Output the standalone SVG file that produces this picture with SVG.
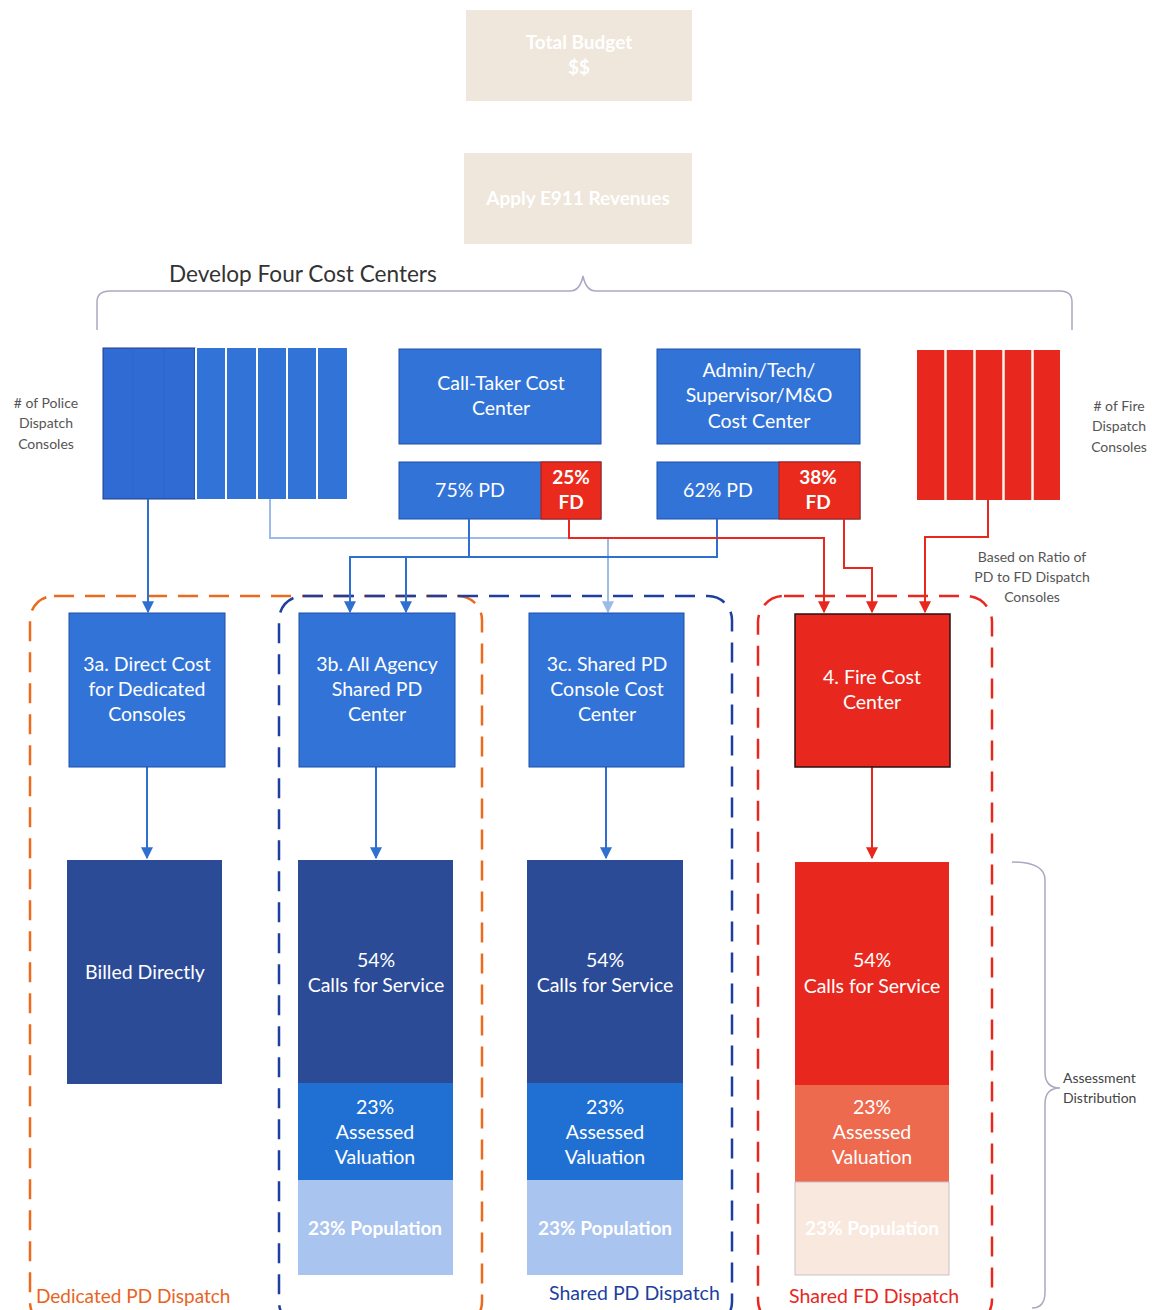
<svg xmlns="http://www.w3.org/2000/svg" width="1152" height="1310" viewBox="0 0 1152 1310">
<style>
  text { font-family: Lato, "Liberation Sans", Arial, sans-serif; }
  .w { fill: #ffffff; text-anchor: middle; font-size: 19.5px; }
  .wb { fill: #ffffff; text-anchor: middle; font-size: 19px; font-weight: bold; }
  .g { fill: #555555; text-anchor: middle; font-size: 14px; }
  .blue { fill: #3273d8; stroke: #1f4fa8; stroke-width: 1; }
  .red { fill: #ea2a1c; stroke: #b01a10; stroke-width: 1; }
  .navy { fill: #2c4b96; }
  .mid { fill: #1f70d2; }
  .light { fill: #a9c4ee; }
  .beige { fill: #efe6dc; }
  .cb { fill: none; stroke: #2f6fd0; stroke-width: 2; }
  .cl { fill: none; stroke: #9cbbe9; stroke-width: 2; }
  .cr { fill: none; stroke: #e8281e; stroke-width: 2; }
  .brace { fill: none; stroke: #a9a9c2; stroke-width: 1.5; }
  .dash { fill: none; stroke-width: 2.5; stroke-dasharray: 20 11; }
</style>
<defs>
  <marker id="ab" viewBox="0 0 10 10" refX="9" refY="5" markerWidth="6" markerHeight="6" orient="auto"><path d="M0,0 L10,5 L0,10 z" fill="#2f6fd0"/></marker>
  <marker id="al" viewBox="0 0 10 10" refX="9" refY="5" markerWidth="6" markerHeight="6" orient="auto"><path d="M0,0 L10,5 L0,10 z" fill="#9cbbe9"/></marker>
  <marker id="ar" viewBox="0 0 10 10" refX="9" refY="5" markerWidth="6" markerHeight="6" orient="auto"><path d="M0,0 L10,5 L0,10 z" fill="#e8281e"/></marker>
</defs>
<rect width="1152" height="1310" fill="#ffffff"/>

<!-- top faded boxes -->
<g id="total-budget">
  <rect class="beige" x="466" y="10" width="226" height="91"/>
  <text class="wb" x="579" y="49" font-size="18">Total Budget</text>
  <text class="wb" x="579" y="74" font-size="18">$$</text>
</g>
<g id="e911">
  <rect class="beige" x="464" y="153" width="228" height="91"/>
  <text class="wb" x="578" y="205" font-size="18">Apply E911 Revenues</text>
</g>

<!-- Develop four cost centers brace -->
<g id="develop">
  <text x="169" y="282" font-size="22.6" fill="#333333">Develop Four Cost Centers</text>
  <path class="brace" d="M97,330 V302 Q97,291 110,291 H570 Q580,291 583,276 Q586,291 596,291 H1060 Q1072,291 1072,302 V330"/>
</g>

<!-- police consoles -->
<g id="police-consoles">
  <rect x="103" y="348" width="244" height="151" fill="#3273d8"/>
  <rect x="103" y="348" width="92" height="151" fill="#2f6bd2" stroke="#1f3f8a" stroke-width="1"/>
  <g stroke="#2a5fc0" stroke-width="1" opacity="0.35">
    <line x1="133" y1="349" x2="133" y2="498"/>
    <line x1="164" y1="349" x2="164" y2="498"/>
  </g>
  <g stroke="#ffffff" stroke-width="2">
    <line x1="196" y1="348" x2="196" y2="499"/>
    <line x1="226" y1="348" x2="226" y2="499"/>
    <line x1="257" y1="348" x2="257" y2="499"/>
    <line x1="287" y1="348" x2="287" y2="499"/>
    <line x1="317" y1="348" x2="317" y2="499"/>
  </g>
  <text class="g" x="46" y="408">#<tspan> of Police</tspan></text>
  <text class="g" x="46" y="428">Dispatch</text>
  <text class="g" x="46" y="449">Consoles</text>
</g>

<!-- call taker -->
<g id="call-taker">
  <rect class="blue" x="399" y="349" width="202" height="95"/>
  <text class="w" x="501" y="390">Call-Taker Cost</text>
  <text class="w" x="501" y="415">Center</text>
</g>
<g id="call-taker-split">
  <rect class="blue" x="399" y="462" width="202" height="57"/>
  <rect class="red" x="541" y="462" width="60" height="57" fill="#ee4a2c"/>
  <text class="w" x="470" y="497">75% PD</text>
  <text class="wb" x="571" y="484">25%</text>
  <text class="wb" x="571" y="509">FD</text>
</g>

<!-- admin -->
<g id="admin">
  <rect class="blue" x="657" y="349" width="203" height="95"/>
  <text class="w" x="759" y="377">Admin/Tech/</text>
  <text class="w" x="759" y="402">Supervisor/M&amp;O</text>
  <text class="w" x="759" y="428">Cost Center</text>
</g>
<g id="admin-split">
  <rect class="blue" x="657" y="462" width="203" height="57"/>
  <rect class="red" x="779" y="462" width="81" height="57" fill="#ee4a2c"/>
  <text class="w" x="718" y="497">62% PD</text>
  <text class="wb" x="818" y="484">38%</text>
  <text class="wb" x="818" y="509">FD</text>
</g>

<!-- fire consoles -->
<g id="fire-consoles">
  <rect x="917" y="350" width="143" height="150" fill="#e8281e"/>
  <g stroke="#fff4ea" stroke-width="2.5">
    <line x1="945.5" y1="350" x2="945.5" y2="500"/>
    <line x1="974.5" y1="350" x2="974.5" y2="500"/>
    <line x1="1003.5" y1="350" x2="1003.5" y2="500"/>
    <line x1="1032.5" y1="350" x2="1032.5" y2="500"/>
  </g>
  <text class="g" x="1119" y="411">#<tspan> of Fire</tspan></text>
  <text class="g" x="1119" y="431">Dispatch</text>
  <text class="g" x="1119" y="452">Consoles</text>
</g>

<text class="g" x="1032" y="562" font-size="13.5" fill="#777777">Based on Ratio of</text>
<text class="g" x="1032" y="582" font-size="13.5" fill="#777777">PD to FD Dispatch</text>
<text class="g" x="1032" y="602" font-size="13.5" fill="#777777">Consoles</text>

<!-- dashed containers -->
<g id="containers">
  <rect class="dash" x="30" y="596" width="452" height="730" rx="24" stroke="#ec6a1e"/>
  <rect class="dash" x="279" y="596" width="453" height="730" rx="24" stroke="#1e3f9e"/>
  <rect class="dash" x="758" y="596" width="234" height="730" rx="26" stroke="#e8281e"/>
  <rect x="34" y="1283" width="200" height="27" fill="#ffffff"/>
  <rect x="545" y="1281" width="176" height="29" fill="#ffffff"/>
  <rect x="785" y="1283" width="176" height="27" fill="#ffffff"/>
  <text x="36" y="1303" font-size="19" fill="#e8641e">Dedicated PD Dispatch</text>
  <text x="549" y="1300" font-size="19.5" fill="#1e3f9e">Shared PD Dispatch</text>
  <text x="789" y="1303" font-size="19.5" fill="#e8281e">Shared FD Dispatch</text>
</g>

<!-- connectors -->
<g id="connectors">
  <path class="cb" d="M148,499 V612" marker-end="url(#ab)"/>
  <path class="cl" d="M270,499 V538 H608 V612" marker-end="url(#al)"/>
  <path class="cb" d="M469,519 V557"/>
  <path class="cb" d="M717,519 V557 H350 V612" marker-end="url(#ab)"/>
  <path class="cb" d="M406,557 V612" marker-end="url(#ab)"/>
  <path class="cr" d="M569,519 V538 H824 V612" marker-end="url(#ar)"/>
  <path class="cr" d="M844,519 V568 H872 V612" marker-end="url(#ar)"/>
  <path class="cr" d="M988,500 V537 H925 V612" marker-end="url(#ar)"/>
  <path class="cb" d="M147,767 V858" marker-end="url(#ab)"/>
  <path class="cb" d="M376,767 V858" marker-end="url(#ab)"/>
  <path class="cb" d="M606,767 V858" marker-end="url(#ab)"/>
  <path class="cr" d="M872,767 V858" marker-end="url(#ar)"/>
</g>

<!-- cost center boxes -->
<g id="n3a">
  <rect class="blue" x="69" y="613" width="156" height="154"/>
  <text class="w" x="147" y="671">3a. Direct Cost</text>
  <text class="w" x="147" y="696">for Dedicated</text>
  <text class="w" x="147" y="721">Consoles</text>
</g>
<g id="n3b">
  <rect class="blue" x="299" y="613" width="156" height="154"/>
  <text class="w" x="377" y="671">3b. All Agency</text>
  <text class="w" x="377" y="696">Shared PD</text>
  <text class="w" x="377" y="721">Center</text>
</g>
<g id="n3c">
  <rect class="blue" x="529" y="613" width="155" height="154"/>
  <text class="w" x="607" y="671">3c. Shared PD</text>
  <text class="w" x="607" y="696">Console Cost</text>
  <text class="w" x="607" y="721">Center</text>
</g>
<g id="n4">
  <rect x="795" y="614" width="155" height="153" fill="#e8281e" stroke="#2a1010" stroke-width="1.5"/>
  <text class="w" x="872" y="684">4. Fire Cost</text>
  <text class="w" x="872" y="709">Center</text>
</g>

<!-- assessment boxes -->
<g id="billed">
  <rect class="navy" x="67" y="860" width="155" height="224"/>
  <text class="w" x="145" y="979">Billed Directly</text>
</g>
<g id="stack-3b">
  <rect class="navy" x="298" y="860" width="155" height="223"/>
  <rect class="mid" x="298" y="1083" width="155" height="97"/>
  <rect class="light" x="298" y="1180" width="155" height="95"/>
  <text class="w" x="376" y="967">54%</text>
  <text class="w" x="376" y="992">Calls for Service</text>
  <text class="w" x="375" y="1114">23%</text>
  <text class="w" x="375" y="1139">Assessed</text>
  <text class="w" x="375" y="1164">Valuation</text>
  <text class="wb" x="375" y="1235" fill="#e8f0fc">23% Population</text>
</g>
<g id="stack-3c">
  <rect class="navy" x="527" y="860" width="156" height="223"/>
  <rect class="mid" x="527" y="1083" width="156" height="97"/>
  <rect class="light" x="527" y="1180" width="156" height="95"/>
  <text class="w" x="605" y="967">54%</text>
  <text class="w" x="605" y="992">Calls for Service</text>
  <text class="w" x="605" y="1114">23%</text>
  <text class="w" x="605" y="1139">Assessed</text>
  <text class="w" x="605" y="1164">Valuation</text>
  <text class="wb" x="605" y="1235" fill="#e8f0fc">23% Population</text>
</g>
<g id="stack-4">
  <rect x="795" y="862" width="154" height="223" fill="#e8281e"/>
  <rect x="795" y="1085" width="154" height="97" fill="#ee6a4e"/>
  <rect x="795" y="1182" width="154" height="93" fill="#f8e8de" stroke="#c8c0c8" stroke-width="1"/>
  <text class="w" x="872" y="967">54%</text>
  <text class="w" x="872" y="993">Calls for Service</text>
  <text class="w" x="872" y="1114">23%</text>
  <text class="w" x="872" y="1139">Assessed</text>
  <text class="w" x="872" y="1164">Valuation</text>
  <text class="wb" x="872" y="1235" fill="#ffffff" font-size="17">23% Population</text>
</g>

<!-- assessment distribution brace -->
<g id="assessment">
  <path class="brace" d="M1012,862 Q1045,862 1045,880 V1072 Q1045,1088 1060,1088 Q1045,1088 1045,1104 V1292 Q1045,1308 1032,1308"/>
  <text x="1063" y="1083" font-size="14" fill="#444444">Assessment</text>
  <text x="1063" y="1103" font-size="14" fill="#444444">Distribution</text>
</g>
</svg>
